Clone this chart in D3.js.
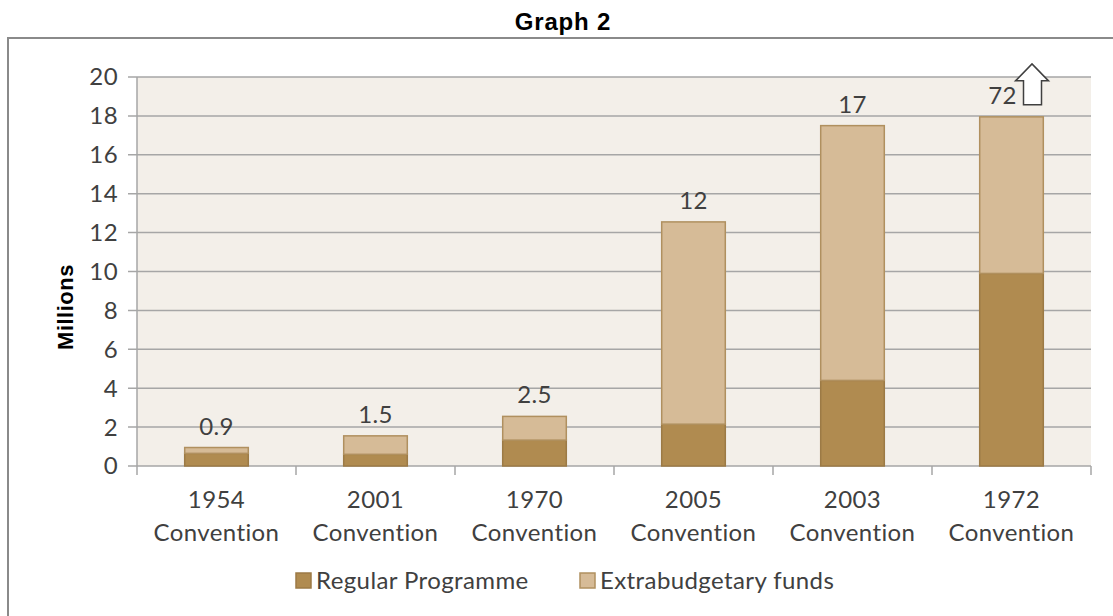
<!DOCTYPE html>
<html><head><meta charset="utf-8">
<script src="https://cdn.jsdelivr.net/npm/d3@7"></script>
<style>body{margin:0;background:#fff}svg{display:block}</style>
</head><body>
<svg id="c" width="1113" height="616"></svg>
<script>
const categories = ["1954 Convention","2001 Convention","1970 Convention","2005 Convention","2003 Convention","1972 Convention"];
const regularProgramme = [0.65, 0.6, 1.33, 2.15, 4.4, 9.9];
const extrabudgetaryFunds = [0.3, 0.95, 1.22, 10.4, 13.1, 8.05];
const totalLabels = ["0.9","1.5","2.5","12","17","72"];
const offScaleArrow = [false,false,false,false,false,true];
const yTicks = [0,2,4,6,8,10,12,14,16,18,20];
const seriesNames = ["Regular Programme","Extrabudgetary funds"];

const svg = d3.select("#c");
const m = {left:137, right:1091, top:77, bottom:466};
const font = "Lato, 'Open Sans', sans-serif";
const fs = 24, ls = "0.4px";
const txt = "#404040";
const colors = ["#b08b50","#d6bb97"];
const strokes = ["#9c7a45","#b0905f"];

// title
svg.append("text").attr("x",563).attr("y",30).attr("text-anchor","middle")
  .attr("font-family","'Liberation Sans', Arial, sans-serif").attr("font-weight","bold")
  .attr("font-size",24).attr("letter-spacing","0.8px").attr("fill","#000").text("Graph 2");
// frame
svg.append("rect").attr("x",8).attr("y",38).attr("width",1130).attr("height",600)
  .attr("fill","none").attr("stroke","#8a8a8a").attr("stroke-width",2);

const x = d3.scaleBand().domain(categories).range([m.left,m.right]).paddingInner(0.6).paddingOuter(0.3);
const xb = d3.scaleBand().domain(categories).range([m.left,m.right]);
const y = d3.scaleLinear().domain([0,20]).range([m.bottom,m.top]);

// plot background
svg.append("rect").attr("x",m.left).attr("y",m.top).attr("width",m.right-m.left).attr("height",m.bottom-m.top).attr("fill","#f3efe9");

// grid
svg.append("g").selectAll("line").data(yTicks).join("line")
  .attr("x1",m.left-9).attr("x2",m.right).attr("y1",d=>y(d)).attr("y2",d=>y(d))
  .attr("stroke","#a6a6a6").attr("stroke-width",1.5);
svg.append("line").attr("x1",m.left).attr("x2",m.left).attr("y1",m.top).attr("y2",m.bottom+9).attr("stroke","#a6a6a6").attr("stroke-width",1.5);
const bounds = categories.map(c=>xb(c)+xb.bandwidth());
svg.append("g").selectAll("line").data(bounds).join("line")
  .attr("x1",d=>d).attr("x2",d=>d).attr("y1",m.bottom).attr("y2",m.bottom+9)
  .attr("stroke","#a6a6a6").attr("stroke-width",1.5);

// y tick labels
svg.append("g").selectAll("text").data(yTicks).join("text")
  .attr("x",118).attr("y",d=>y(d)).attr("dy","0.35em").attr("text-anchor","end")
  .attr("font-family",font).attr("font-size",fs).attr("letter-spacing",ls).attr("fill",txt).text(d=>d);

// y label
svg.append("text").attr("transform","translate(73,307) rotate(-90)").attr("text-anchor","middle")
  .attr("font-family","'Liberation Sans', Arial, sans-serif").attr("font-weight","bold")
  .attr("font-size",22).attr("letter-spacing","0.5px").attr("fill","#000").text("Millions");

// stacked bars
const rows = categories.map((c,i)=>({cat:c, reg:regularProgramme[i], ext:extrabudgetaryFunds[i], label:totalLabels[i], arrow:offScaleArrow[i]}));
const stack = d3.stack().keys(["reg","ext"])(rows);
svg.append("g").selectAll("g").data(stack).join("g")
  .attr("fill",(d,i)=>colors[i]).attr("stroke",(d,i)=>strokes[i]).attr("stroke-width",1.5)
  .selectAll("rect").data(d=>d).join("rect")
  .attr("x",d=>x(d.data.cat)).attr("width",x.bandwidth())
  .attr("y",d=>y(d[1])).attr("height",d=>y(d[0])-y(d[1]));

// total labels
const lbl = svg.append("g").selectAll("g").data(rows).join("g")
  .attr("transform",d=>`translate(${x(d.cat)+x.bandwidth()/2 - (d.arrow?9:0)},${y(d.reg+d.ext)-13})`);
lbl.append("text").attr("text-anchor","middle").attr("font-family",font).attr("font-size",fs)
  .attr("letter-spacing",ls).attr("fill",txt).text(d=>d.label);
lbl.filter(d=>d.arrow).append("path")
  .attr("d","M21,1 L21,-23 L13,-23 L29.5,-40 L46,-23 L39,-23 L39,1 Z")
  .attr("fill","#fff").attr("stroke","#404040").attr("stroke-width",1.5).attr("stroke-linejoin","miter");

// x labels
const xl = svg.append("g").selectAll("text").data(categories).join("text")
  .attr("text-anchor","middle").attr("font-family",font).attr("font-size",fs).attr("letter-spacing",ls).attr("fill",txt);
xl.append("tspan").attr("x",d=>xb(d)+xb.bandwidth()/2).attr("y",508).text(d=>d.split(" ")[0]);
xl.append("tspan").attr("x",d=>xb(d)+xb.bandwidth()/2).attr("y",541).text(d=>d.split(" ")[1]);

// legend
const lx = [296, 580];
const lg = svg.append("g").selectAll("g").data(seriesNames).join("g").attr("transform",(d,i)=>`translate(${lx[i]},573)`);
lg.append("rect").attr("width",15).attr("height",15).attr("fill",(d,i)=>colors[i]).attr("stroke",(d,i)=>strokes[i]).attr("stroke-width",1.5);
lg.append("text").attr("x",20).attr("y",8).attr("dy","0.35em").attr("font-family",font).attr("font-size",fs).attr("letter-spacing",ls).attr("fill",txt).text(d=>d);
</script>
</body></html>
